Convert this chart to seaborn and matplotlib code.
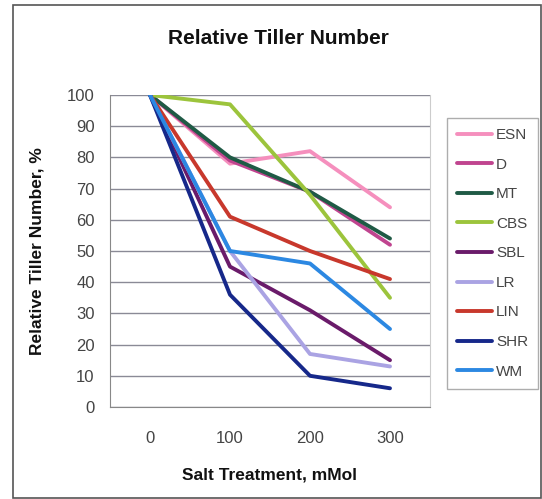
import matplotlib
matplotlib.use("Agg")
import matplotlib.pyplot as plt
import seaborn as sns
import pandas as pd
from matplotlib.patches import Rectangle

salt = [0, 100, 200, 300]
ESN = [100, 78, 82, 64]
D = [100, 79, 69, 52]
MT = [100, 80, 69, 54]
CBS = [100, 97, 68, 35]
SBL = [100, 45, 31, 15]
LR = [100, 50, 17, 13]
LIN = [100, 61, 50, 41]
SHR = [100, 36, 10, 6]
WM = [100, 50, 46, 25]

names = ["ESN", "D", "MT", "CBS", "SBL", "LR", "LIN", "SHR", "WM"]
series = [ESN, D, MT, CBS, SBL, LR, LIN, SHR, WM]
colors = ["#f58fbd", "#c0448f", "#1f5a45", "#9cc43c", "#6a1b6a",
          "#aaa3e3", "#c8382c", "#16288a", "#2c88e2"]

rows = []
for n, s in zip(names, series):
    for x, v in zip(salt, s):
        rows.append({"Salt": x, "Value": v, "Line": n})
df = pd.DataFrame(rows)

sns.set_style("white")
plt.rcParams['font.family'] = ['Liberation Sans', 'DejaVu Sans']

fig = plt.figure(figsize=(5.42, 4.99), dpi=100)
W, H = 542, 499
ax = fig.add_axes([110 / W, 1 - 407 / H, 320 / W, 312 / H])

sns.lineplot(data=df, x="Salt", y="Value", hue="Line", hue_order=names,
             palette=colors, linewidth=2.8, ax=ax, legend=True)

ax.set_xlim(-50, 350)
ax.set_ylim(0, 100)
ax.set_yticks(range(0, 101, 10))
ax.set_xticks(salt)
ax.set_xticks([-50, 50, 150, 250, 350], minor=True)
ax.tick_params(axis="x", which="major", length=0, labelsize=12, pad=17, colors="#444444")
ax.tick_params(axis="x", which="minor", length=5, color="#888888", direction="out")
ax.tick_params(axis="y", length=6, color="#888888", direction="out", labelsize=12,
               pad=5, colors="#444444")
ax.yaxis.grid(True, color="#8a8a96", linewidth=1.0)
ax.set_axisbelow(True)
ax.spines["top"].set_visible(False)
ax.spines["right"].set_color("#cccccc")
ax.spines["left"].set_color("#888888")
ax.spines["bottom"].set_color("#888888")

ax.set_xlabel("Salt Treatment, mMol", fontsize=12.5, fontweight="bold", color="#111111")
ax.xaxis.set_label_coords(0.5, -(467 - 407) / 312)
ax.set_ylabel("Relative Tiller Number, %", fontsize=12.5, fontweight="bold", color="#111111")
ax.yaxis.set_label_coords(-(110 - 45) / 320, 0.5)

fig.text(278 / W, 1 - 38 / H, "Relative Tiller Number", ha="center", va="center",
         fontsize=15, fontweight="bold", color="#111111")

leg = ax.legend(loc="upper left", bbox_to_anchor=(447 / W, 1 - 118 / H),
                bbox_transform=fig.transFigure, frameon=True, fontsize=11,
                handlelength=2.3, labelspacing=1.02, borderpad=0.65,
                handletextpad=0.25, borderaxespad=0, fancybox=False,
                edgecolor="#999999")
leg.get_frame().set_linewidth(1.0)
for t in leg.get_texts():
    t.set_color("#444444")
for line in leg.get_lines():
    line.set_linewidth(2.8)

fig.patches.append(Rectangle((13 / W, 1 / H), 528 / W, 493 / H, transform=fig.transFigure,
                             fill=False, edgecolor="#555555", linewidth=1.2))

fig.savefig("out.png", dpi=100)
